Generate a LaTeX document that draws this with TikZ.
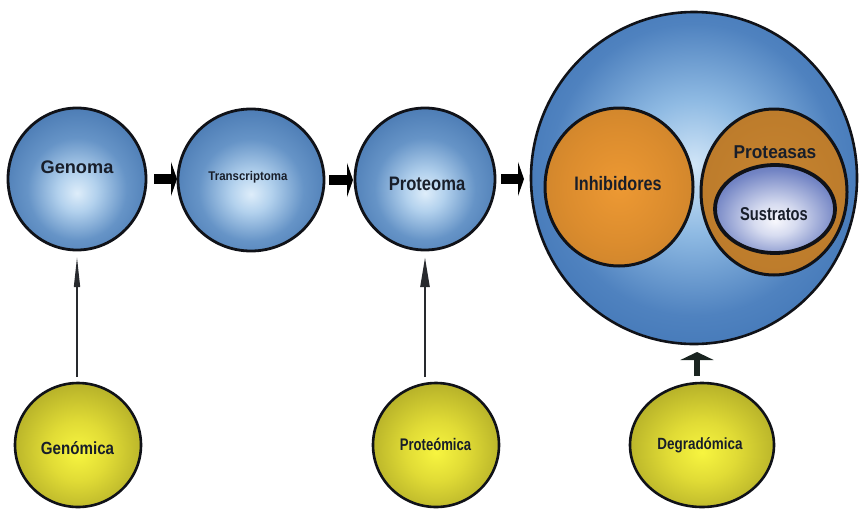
\documentclass[tikz,border=0pt]{standalone}
\usepackage{fontspec}
\setmainfont{Liberation Sans}
\usepackage{graphicx}
\usetikzlibrary{shapes.geometric, arrows.meta}

\definecolor{ink}{RGB}{24,30,42}
\definecolor{rim}{RGB}{16,18,24}
\definecolor{arrowgrey}{RGB}{40,42,46}
\definecolor{stubgreen}{RGB}{26,36,32}

% radial fills for the different kinds of bodies
\pgfdeclareradialshading{blueball}{\pgfpoint{0bp}{-5bp}}{%
  rgb(0bp)=(0.87,0.93,0.98);
  rgb(7bp)=(0.70,0.82,0.93);
  rgb(18bp)=(0.40,0.58,0.78);
  rgb(32bp)=(0.26,0.45,0.68);
  rgb(45bp)=(0.20,0.37,0.60);
  rgb(50bp)=(0.15,0.30,0.52);
  rgb(60bp)=(0.15,0.30,0.52)}
\pgfdeclareradialshading{bigball}{\pgfpoint{0bp}{2bp}}{%
  rgb(0bp)=(0.82,0.90,0.97);
  rgb(10bp)=(0.56,0.73,0.89);
  rgb(22bp)=(0.31,0.51,0.75);
  rgb(35bp)=(0.22,0.43,0.69);
  rgb(50bp)=(0.17,0.36,0.62);
  rgb(60bp)=(0.17,0.36,0.62)}
\pgfdeclareradialshading{yellowball}{\pgfpoint{0bp}{-3bp}}{%
  rgb(0bp)=(0.97,0.96,0.25);
  rgb(12bp)=(0.88,0.86,0.21);
  rgb(30bp)=(0.68,0.66,0.15);
  rgb(50bp)=(0.50,0.48,0.10);
  rgb(60bp)=(0.50,0.48,0.10)}
\pgfdeclareradialshading{orangeball}{\pgfpoint{0bp}{0bp}}{%
  rgb(0bp)=(0.93,0.60,0.20);
  rgb(18bp)=(0.86,0.55,0.18);
  rgb(38bp)=(0.76,0.49,0.16);
  rgb(50bp)=(0.68,0.43,0.13);
  rgb(60bp)=(0.68,0.43,0.13)}
\pgfdeclareradialshading{proteaseball}{\pgfpoint{0bp}{0bp}}{%
  rgb(0bp)=(0.78,0.52,0.19);
  rgb(50bp)=(0.70,0.45,0.15);
  rgb(60bp)=(0.70,0.45,0.15)}
\pgfdeclareradialshading{substrateball}{\pgfpoint{0bp}{-7bp}}{%
  rgb(0bp)=(0.97,0.97,0.99);
  rgb(9bp)=(0.84,0.86,0.94);
  rgb(26bp)=(0.45,0.52,0.77);
  rgb(50bp)=(0.20,0.30,0.58);
  rgb(60bp)=(0.20,0.30,0.58)}

% condensed bold label text: size, horizontal factor, text
\newcommand{\lbltext}[3]{{\fontsize{#1pt}{#1pt}\selectfont\bfseries\scalebox{#2}[1]{#3}}}

\begin{document}
\begin{tikzpicture}[x=1pt, y=-1pt,
  body/.style={ellipse, draw=rim, inner sep=0pt, outer sep=0pt},
  omics/.style={body, line width=2.8pt, shading=blueball},
  method/.style={body, line width=2.6pt, shading=yellowball},
  lbl/.style={anchor=base, inner sep=0pt, text=ink},
  blockarrow/.style={draw=black, line width=10pt,
    -{Triangle[width=34pt, length=6pt]}},
  thinup/.style={draw=arrowgrey, line width=1.5pt,
    -{Triangle[width=6pt, length=30pt]}},
  boldup/.style={draw=arrowgrey, line width=2.4pt,
    -{Triangle[width=9pt, length=30pt]}},
  stubup/.style={draw=stubgreen, line width=6pt,
    -{Triangle[width=33pt, length=8pt]}}
]
\useasboundingbox (0,0) rectangle (859,509);

% upper row
\node[omics, minimum width=138pt, minimum height=142pt] (genoma) at (77,179) {};
\node[omics, minimum width=146pt, minimum height=142pt] (transcriptoma) at (251,180) {};
\node[omics, minimum width=140pt, minimum height=142pt] (proteoma) at (425,179) {};

% degradome
\node[body, line width=2.6pt, shading=bigball,
      minimum width=326pt, minimum height=332pt] (degradoma) at (694,178) {};
\node[body, line width=3pt, shading=orangeball,
      minimum width=148pt, minimum height=158pt] (inhibidores) at (619,187) {};
\node[body, line width=3pt, shading=proteaseball,
      minimum width=146pt, minimum height=166pt] (proteasas) at (774,192) {};
\node[body, line width=3.8pt, shading=substrateball,
      minimum width=120pt, minimum height=88pt] (sustratos) at (775,209) {};

% lower row
\node[method, minimum width=126pt, minimum height=124pt] (genomica) at (78,445) {};
\node[method, minimum width=126pt, minimum height=124pt] (proteomica) at (436,445) {};
\node[method, minimum width=144pt, minimum height=124pt] (degradomica) at (702,445) {};

% labels
\node[lbl] (genoma-t) at (77,173.5) {\lbltext{18.2}{1.0}{Genoma}};
\node[lbl] (transcriptoma-t) at (248,180) {\lbltext{12.6}{0.91}{Transcriptoma}};
\node[lbl] (proteoma-t) at (427,190) {\lbltext{19.5}{0.85}{Proteoma}};
\node[lbl] (inhibidores-t) at (618,190.5) {\lbltext{19.5}{0.83}{Inhibidores}};
\node[lbl] (proteasas-t) at (775,158) {\lbltext{18.6}{0.93}{Proteasas}};
\node[lbl] (sustratos-t) at (774,220) {\lbltext{18.6}{0.79}{Sustratos}};
\node[lbl] (genomica-t) at (77.5,454) {\lbltext{17.6}{0.86}{Genómica}};
\node[lbl] (proteomica-t) at (435.5,450) {\lbltext{16.8}{0.78}{Proteómica}};
\node[lbl] (degradomica-t) at (700,449) {\lbltext{16.2}{0.83}{Degradómica}};

% flow along the upper row
\draw[blockarrow, shorten <=8pt, shorten >=1pt]
  (genoma.east) -- (genoma.east -| transcriptoma.west);
\draw[blockarrow, shorten <=5pt, shorten >=2pt]
  (transcriptoma.east) -- (transcriptoma.east -| proteoma.west);
\draw[blockarrow, shorten <=6pt, shorten >=7pt]
  (proteoma.east) -- (proteoma.east -| degradoma.west);

% methods pointing up
\draw[thinup, shorten <=6pt, shorten >=7pt]
  (genoma.south |- genomica.north) -- (genoma.south);
\draw[boldup, shorten <=6pt, shorten >=7pt]
  (proteoma.south |- proteomica.north) -- (proteoma.south);
\draw[stubup, shorten <=7pt, shorten >=8pt]
  ([xshift=3pt]degradoma.south |- degradomica.north) -- ([xshift=3pt]degradoma.south);
\end{tikzpicture}
\end{document}
